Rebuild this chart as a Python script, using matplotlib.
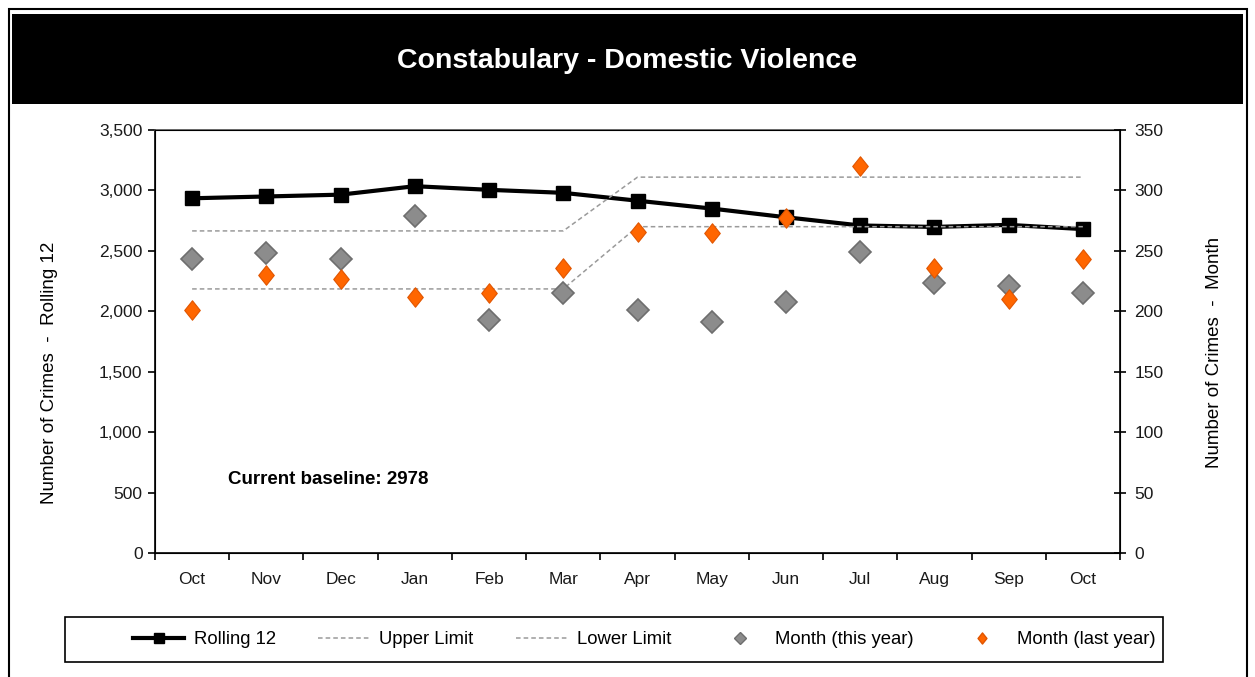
import matplotlib
matplotlib.use("Agg")
import matplotlib.pyplot as plt
import matplotlib.patches as patches
from matplotlib.lines import Line2D
from matplotlib.path import Path

plt.rcParams['font.family'] = ['Liberation Sans', 'DejaVu Sans']

months = ['Oct', 'Nov', 'Dec', 'Jan', 'Feb', 'Mar', 'Apr',
          'May', 'Jun', 'Jul', 'Aug', 'Sep', 'Oct']
rolling_12 = [2935, 2950, 2965, 3035, 3005, 2980, 2915,
              2850, 2778, 2710, 2698, 2715, 2680]
upper_limit = [2665, 2665, 2665, 2665, 2665, 2665, 3110,
               3110, 3110, 3110, 3110, 3110, 3110]
lower_limit = [2185, 2185, 2185, 2185, 2185, 2185, 2700,
               2700, 2700, 2700, 2700, 2700, 2700]
month_this_year = [243, 248, 243, 279, 193, 215, 201,
                   191, 208, 249, 223, 221, 215]
month_last_year = [201, 230, 227, 212, 215, 236, 266,
                   265, 277, 320, 236, 210, 243]
baseline = 2978

# slightly tall diamond for the orange markers
tall_diamond = Path([(0, 1), (0.8, 0), (0, -1), (-0.8, 0), (0, 1)],
                    [Path.MOVETO, Path.LINETO, Path.LINETO, Path.LINETO,
                     Path.CLOSEPOLY])

W, H = 1255, 677
fig = plt.figure(figsize=(W / 100, H / 100), dpi=100)

# outer frame and title bar
fig.patches.append(patches.Rectangle((9 / W, -0.05), 1238 / W, 1.05 - 9 / H,
                                     transform=fig.transFigure, fill=False,
                                     edgecolor='black', lw=1.5))
fig.patches.append(patches.Rectangle((12 / W, 1 - 104 / H), 1231 / W, 90 / H,
                                     transform=fig.transFigure,
                                     facecolor='black', edgecolor='none'))
fig.text(0.5, 1 - 61 / H, 'Constabulary - Domestic Violence', color='white',
         fontsize=20.5, fontweight='bold', ha='center', va='center')

ax = fig.add_axes([155 / W, 1 - 553 / H, 965 / W, 423 / H])
x = list(range(len(months)))

ax.plot(x, rolling_12, color='black', lw=3, marker='s', ms=10.5, zorder=3)
ax.plot(x, upper_limit, color='#9a9a9a', lw=1.1, dashes=(3, 2), zorder=4)
ax.plot(x, lower_limit, color='#9a9a9a', lw=1.1, dashes=(3, 2), zorder=4)

ax.set_xlim(-0.5, len(months) - 0.5)
ax.set_ylim(0, 3500)
ax.set_yticks(range(0, 3501, 500))
ax.set_yticklabels([f'{v:,}' for v in range(0, 3501, 500)])
ax.set_xticks([i - 0.5 for i in range(len(months) + 1)])
ax.set_xticklabels([])
ax.set_xticks(x, minor=True)
ax.set_xticklabels(months, minor=True)
ax.tick_params(axis='x', which='major', direction='out', length=5, width=1.2)
ax.tick_params(axis='x', which='minor', length=0, pad=14, labelsize=12.5,
               labelcolor='#1a1a1a')
ax.tick_params(axis='y', direction='out', length=5, width=1.2, pad=4,
               labelsize=12.5, labelcolor='#1a1a1a')
ax.set_ylabel('Number of Crimes  -  Rolling 12', fontsize=13.5)
ax.yaxis.set_label_coords(-0.1005, 0.4255)
for s in ax.spines.values():
    s.set_linewidth(1.2)
ax.spines['top'].set_color('#555555')

ax.text(0.0756, 0.173, f'Current baseline: {baseline}', transform=ax.transAxes,
        fontsize=13.5, fontweight='bold', va='center', ha='left')

ax2 = ax.twinx()
ax2.plot(x, month_this_year, ls='none', marker='D', ms=11,
         markerfacecolor='#8c8c8c', markeredgecolor='#6e6e6e', mew=1.2, zorder=5)
ax2.plot(x, month_last_year, ls='none', marker=tall_diamond, ms=14,
         markerfacecolor='#ff6600', markeredgecolor='#e05500', mew=0.8, zorder=6)
ax2.set_ylim(0, 350)
ax2.set_yticks(range(0, 351, 50))
ax2.tick_params(axis='y', direction='inout', length=9, width=1.2, pad=6,
                labelsize=12.5, labelcolor='#1a1a1a')
ax2.set_ylabel('Number of Crimes  -  Month', fontsize=13.5)
ax2.yaxis.set_label_coords(1.089, 0.473)
ax2.set_xlim(-0.5, len(months) - 0.5)

# legend
fig.patches.append(patches.Rectangle((65 / W, 1 - 662 / H), 1098 / W, 45 / H,
                                     transform=fig.transFigure, fill=False,
                                     edgecolor='black', lw=1.2))
handles = [
    Line2D([], [], color='black', lw=3, marker='s', ms=7),
    Line2D([], [], color='#9a9a9a', lw=1.1, dashes=(3, 2)),
    Line2D([], [], color='#9a9a9a', lw=1.1, dashes=(3, 2)),
    Line2D([], [], ls='none', marker='D', ms=6, markerfacecolor='#8c8c8c',
           markeredgecolor='#6e6e6e'),
    Line2D([], [], ls='none', marker=tall_diamond, ms=8,
           markerfacecolor='#ff6600', markeredgecolor='#e05500'),
]
labels = ['Rolling 12', 'Upper Limit', 'Lower Limit',
          'Month (this year)', 'Month (last year)']
fig.legend(handles, labels, loc='center', bbox_to_anchor=(644 / W, 1 - 640 / H),
           ncol=5, frameon=False, fontsize=13.3, handlelength=2.8,
           handletextpad=0.5, columnspacing=2.3)

fig.savefig('out.png', dpi=100)
